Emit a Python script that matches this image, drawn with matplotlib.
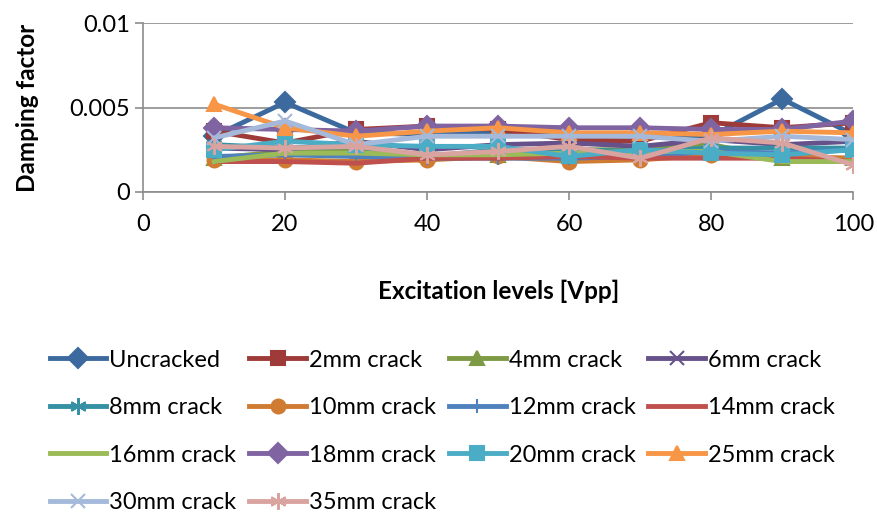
import matplotlib.pyplot as plt
import numpy as np

plt.rcParams['font.family'] = ['Lato', 'DejaVu Sans']

levels = [10, 20, 30, 40, 50, 60, 70, 80, 90, 100]

uncracked = [0.0033, 0.0053, 0.0035, 0.0034, 0.0035, 0.0033, 0.0033, 0.0033, 0.0055, 0.0034]
crack_2mm = [0.0036, 0.0029, 0.0037, 0.0039, 0.0037, 0.0031, 0.0030, 0.0041, 0.0038, 0.0041]
crack_4mm = [0.0020, 0.0024, 0.0025, 0.0022, 0.0022, 0.0025, 0.0025, 0.0028, 0.0020, 0.0020]
crack_6mm = [0.0026, 0.0025, 0.0030, 0.0025, 0.0028, 0.0029, 0.0027, 0.0031, 0.0028, 0.0030]
crack_8mm = [0.0028, 0.0026, 0.0027, 0.0021, 0.0025, 0.0025, 0.0024, 0.0026, 0.0026, 0.0026]
crack_10mm = [0.0019, 0.0019, 0.0018, 0.0019, 0.0021, 0.0018, 0.0019, 0.0022, 0.0021, 0.0020]
crack_12mm = [0.0021, 0.0022, 0.0021, 0.0020, 0.0020, 0.0020, 0.0021, 0.0024, 0.0023, 0.0025]
crack_14mm = [0.0018, 0.0018, 0.0017, 0.0020, 0.0020, 0.0021, 0.0020, 0.0020, 0.0020, 0.0018]
crack_16mm = [0.0018, 0.0023, 0.0023, 0.0022, 0.0022, 0.0023, 0.0024, 0.0024, 0.0018, 0.0018]
crack_18mm = [0.0038, 0.0037, 0.0036, 0.0039, 0.0039, 0.0038, 0.0038, 0.0037, 0.0037, 0.0042]
crack_20mm = [0.0025, 0.0030, 0.0028, 0.0027, 0.0027, 0.0021, 0.0025, 0.0023, 0.0022, 0.0025]
crack_25mm = [0.0052, 0.0038, 0.0033, 0.0036, 0.0038, 0.0035, 0.0035, 0.0034, 0.0036, 0.0035]
crack_30mm = [0.0032, 0.0042, 0.0028, 0.0033, 0.0033, 0.0033, 0.0033, 0.0030, 0.0033, 0.0031]
crack_35mm = [0.0027, 0.0026, 0.0027, 0.0022, 0.0024, 0.0027, 0.0020, 0.0032, 0.0029, 0.0016]

series = [
    ('Uncracked', uncracked, '#3D6A9E', 'D', 10),
    ('2mm crack', crack_2mm, '#9E3B39', 's', 10),
    ('4mm crack', crack_4mm, '#7E9A45', '^', 10),
    ('6mm crack', crack_6mm, '#67518A', 'x', 10),
    ('8mm crack', crack_8mm, '#3590A4', (6, 2, 0), 12),
    ('10mm crack', crack_10mm, '#D07B32', 'o', 10),
    ('12mm crack', crack_12mm, '#4F81BD', '|', 10),
    ('14mm crack', crack_14mm, '#C0504D', None, 0),
    ('16mm crack', crack_16mm, '#9BBB59', None, 0),
    ('18mm crack', crack_18mm, '#8064A2', 'D', 10),
    ('20mm crack', crack_20mm, '#4BACC6', 's', 10),
    ('25mm crack', crack_25mm, '#F79646', '^', 10),
    ('30mm crack', crack_30mm, '#A5B9DA', 'x', 10),
    ('35mm crack', crack_35mm, '#D9A3A0', (6, 2, 0), 12),
]

fig = plt.figure(figsize=(8.77, 5.14), dpi=100)
ax = fig.add_axes([0.163, 0.6265, 0.81, 0.3287])

handles = []
for name, vals, color, marker, size in series:
    line, = ax.plot(levels, vals, color=color, lw=3.5, marker=marker, markersize=size,
                    markeredgewidth=1.5, label=name)
    handles.append(line)

ax.set_xlim(0, 100)
ax.set_ylim(0, 0.01)
ax.set_xticks(np.arange(0, 101, 20))
ax.set_yticks([0, 0.005, 0.01])
ax.set_yticklabels(['0', '0.005', '0.01'])
ax.yaxis.grid(True, color='#8C8C8C', lw=1.2)
ax.set_axisbelow(True)
for side in ['top', 'right']:
    ax.spines[side].set_visible(False)
for side in ['left', 'bottom']:
    ax.spines[side].set_color('#8C8C8C')
    ax.spines[side].set_linewidth(1.2)
ax.tick_params(axis='both', labelsize=17, color='#8C8C8C', length=6, width=1.2)
ax.tick_params(axis='x', pad=10)
ax.set_xlabel('Excitation levels [Vpp]', fontsize=17.5, fontweight='bold', labelpad=32)
ax.set_ylabel('Damping factor', fontsize=17.5, fontweight='bold', labelpad=22)

# legend is filled column by column, so reorder to read across rows
ncol = 4
order = []
for c in range(ncol):
    order.extend(range(c, len(handles), ncol))
fig.legend([handles[i] for i in order], [series[i][0] for i in order],
           loc='upper left', bbox_to_anchor=(0.046, 0.338), ncol=ncol, frameon=False,
           fontsize=17, handlelength=2.4, handletextpad=0.12, columnspacing=0.55,
           labelspacing=1.12, borderaxespad=0)

fig.savefig('out.png', dpi=100)
